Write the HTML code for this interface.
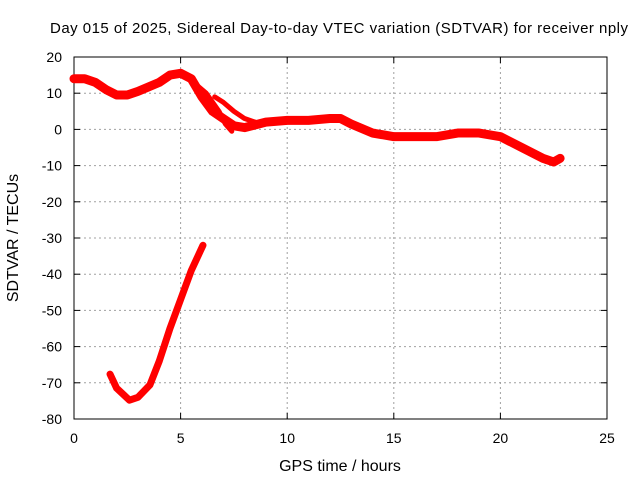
<!DOCTYPE html>
<html><head><meta charset="utf-8"><style>
body{margin:0;background:#fff}
svg{display:block;font-family:"Liberation Sans",sans-serif;font-size:14px}
</style></head><body>
<svg width="640" height="480">
<g id="grid"></g>
<g id="axes"></g>
<g id="series"></g>
<text x="339" y="33" text-anchor="middle" style="font-size:15px" textLength="578">Day 015 of 2025, Sidereal Day-to-day VTEC variation (SDTVAR) for receiver nply</text>
<text x="340" y="471" text-anchor="middle" style="font-size:16px">GPS time / hours</text>
<text transform="translate(18,238) rotate(-90)" text-anchor="middle" style="font-size:16px">SDTVAR / TECUs</text>
</svg>
<script>
const xTicks=[0,5,10,15,20,25];
const yTicks=[20,10,0,-10,-20,-30,-40,-50,-60,-70,-80];
const mainH=[0,0.5,1,1.5,2,2.5,3,4,4.5,5,5.5,6,6.5,7,7.5,8,9,10,11,12,12.5,13,14,15,16,17,18,19,20,21,22,22.5,22.8];
const mainV=[14,14,13,11,9.5,9.5,10.5,13,15,15.5,14,9,5,3,1,0.5,2,2.5,2.5,3,3,1.5,-1,-2,-2,-2,-1,-1,-2,-5,-8,-9,-8];
const branch1H=[5.6,6.2,6.8,7.1,7.4];
const branch1V=[13,10,5,1.5,-0.5];
const branch2H=[6.6,7,7.5,8,8.5];
const branch2V=[9,7.5,5,3,2];
const lowH=[1.69,2,2.6,3,3.56,4,4.5,5,5.5,6.05];
const lowV=[-67.6,-71.5,-74.8,-74,-70.6,-64,-55,-47,-39,-32];
const X=h=>74+h*(607-74)/25;
const Y=v=>57+(20-v)*(419-57)/100;
const NS='http://www.w3.org/2000/svg';
function mk(t,a,p){const e=document.createElementNS(NS,t);for(const k in a)e.setAttribute(k,a[k]);p.appendChild(e);return e;}
const grid=document.getElementById('grid'),axes=document.getElementById('axes'),ser=document.getElementById('series');
xTicks.forEach(t=>{
 if(t>0&&t<25){const l=mk('line',{x1:X(t),x2:X(t),y1:57,y2:419,stroke:'#a0a0a0','stroke-dasharray':'2,3'},grid);
 
 }
 const tx=mk('text',{x:X(t),y:443,'text-anchor':'middle'},axes);tx.textContent=t;
 
 
 mk('line',{x1:X(t),x2:X(t),y1:419,y2:413,stroke:'#000'},axes);
 mk('line',{x1:X(t),x2:X(t),y1:57,y2:63,stroke:'#000'},axes);
});
yTicks.forEach(t=>{
 if(t<20&&t>-80){const l=mk('line',{x1:74,x2:607,y1:Y(t),y2:Y(t),stroke:'#a0a0a0','stroke-dasharray':'2,3'},grid);
 
 }
 const tx=mk('text',{x:62,y:Y(t)+5,'text-anchor':'end'},axes);tx.textContent=t;
 
 
 mk('line',{x1:74,x2:80,y1:Y(t),y2:Y(t),stroke:'#000'},axes);
 mk('line',{x1:601,x2:607,y1:Y(t),y2:Y(t),stroke:'#000'},axes);
});
mk('rect',{x:74,y:57,width:533,height:362,fill:'none',stroke:'#000'},axes);
function line(H,V,w,name){const p=mk('polyline',{points:H.map((h,i)=>X(h)+','+Y(V[i])).join(' '),fill:'none',stroke:'#ff0000','stroke-width':w,'stroke-linejoin':'round','stroke-linecap':'round'},ser);
 
 }
line(mainH,mainV,9,'main-series');
line(branch1H,branch1V,5,'branch-series-1');
line(branch2H,branch2V,5,'branch-series-2');
line(lowH,lowV,7,'low-series');
</script>
</body></html>
